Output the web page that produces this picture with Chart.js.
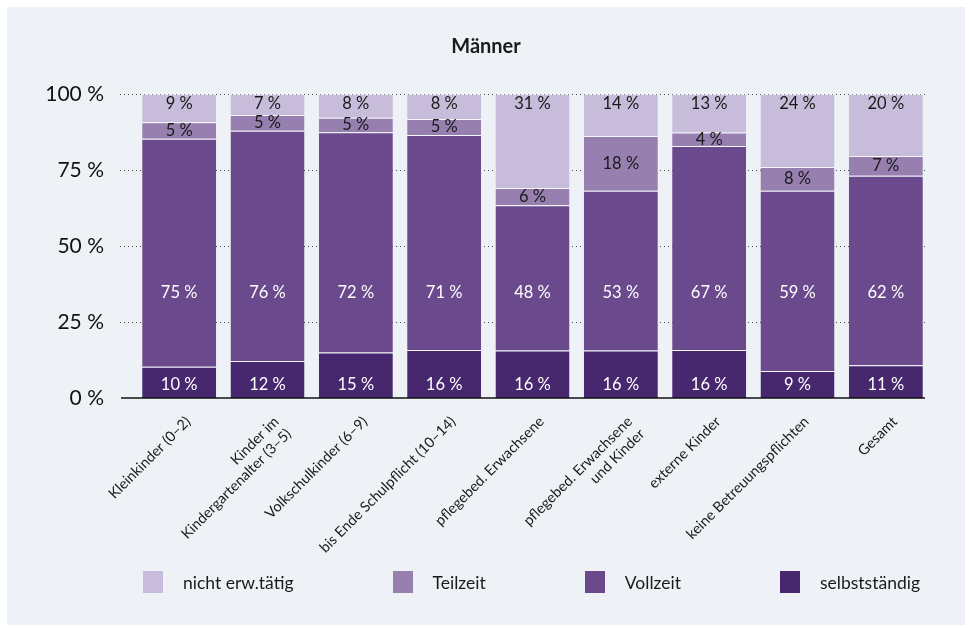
<!DOCTYPE html>
<html>
<head>
<meta charset="utf-8">
<script src="https://cdn.jsdelivr.net/npm/chart.js@4/dist/chart.umd.min.js"></script>
<style>
  html, body { margin: 0; padding: 0; background: #fff; }
  body { width: 972px; height: 628px; position: relative; overflow: hidden; font-family: Lato, sans-serif; }
  #panel { position: absolute; left: 7px; top: 7px; width: 958px; height: 618px; background: #eef2f6; }
  #wrap { position: absolute; left: 0; top: 0; width: 972px; height: 628px; }
  #legend { position: absolute; left: 143px; top: 571px; display: flex; align-items: center; }
  .item { display: flex; align-items: center; margin-right: 99px; font-size: 17.5px; color: #1a1a1a; }
  .item:last-child { margin-right: 0; }
  .box { width: 20px; height: 22px; margin-right: 20px; }
</style>
</head>
<body>
<div id="panel"></div>
<div id="wrap"><canvas id="chart"></canvas></div>
<div id="legend"></div>
<script>
const categories = [
  'Kleinkinder (0–2)',
  ['Kinder im', 'Kindergartenalter (3–5)'],
  'Volkschulkinder (6–9)',
  'bis Ende Schulpflicht (10–14)',
  'pflegebed. Erwachsene',
  ['pflegebed. Erwachsene', 'und Kinder'],
  'externe Kinder',
  'keine Betreuungspflichten',
  'Gesamt'
];

// shares in %, bottom to top
const selbststaendig = [10.3, 12.2, 15.0, 15.8, 15.6, 15.6, 15.8, 8.9, 10.8];
const vollzeit = [75.0, 75.7, 72.4, 70.7, 47.8, 52.6, 67.1, 59.3, 62.3];
const teilzeit = [5.4, 5.2, 4.8, 5.3, 5.7, 18.0, 4.4, 7.8, 6.5];
const nichtErwerbstaetig = [9.3, 6.9, 7.8, 8.2, 30.9, 13.8, 12.7, 24.0, 20.4];

const yTicks = [0, 25, 50, 75, 100];

const FONT = 'Lato, sans-serif';

// dotted grid + baseline, a bit wider than the bars
const gridPlugin = {
  id: 'gridLines',
  beforeDatasetsDraw(chart) {
    const { ctx, chartArea } = chart;
    const y = chart.scales.y;
    ctx.save();
    ctx.strokeStyle = '#4a4a4a';
    ctx.lineWidth = 1;
    ctx.setLineDash([1, 3]);
    yTicks.forEach(v => {
      if (v === 0) return;
      const py = Math.round(y.getPixelForValue(v)) + 0.5;
      ctx.beginPath();
      ctx.moveTo(chartArea.left - 15, py);
      ctx.lineTo(chartArea.right - 5, py);
      ctx.stroke();
    });
    ctx.restore();
  },
  afterDatasetsDraw(chart) {
    const { ctx, chartArea } = chart;
    const py = chart.scales.y.getPixelForValue(0);
    ctx.save();
    ctx.strokeStyle = '#111';
    ctx.lineWidth = 1.5;
    ctx.beginPath();
    ctx.moveTo(chartArea.left - 14, py);
    ctx.lineTo(chartArea.right - 5, py);
    ctx.stroke();
    ctx.restore();
  }
};

// value labels inside the segments
const labelPlugin = {
  id: 'valueLabels',
  afterDatasetsDraw(chart) {
    const { ctx } = chart;
    const y = chart.scales.y;
    ctx.save();
    ctx.font = '16.5px ' + FONT;
    ctx.textAlign = 'center';
    ctx.textBaseline = 'middle';
    chart.data.datasets.forEach((ds, i) => {
      const meta = chart.getDatasetMeta(i);
      ctx.fillStyle = ds.labelColor;
      meta.data.forEach((bar, j) => {
        const v = ds.data[j];
        let py;
        if (ds.labelAt === 'center') {
          py = (bar.y + bar.base) / 2;
        } else {
          py = y.getPixelForValue(ds.labelAt);
        }
        ctx.fillText(Math.round(v) + ' %', bar.x, py);
      });
    });
    ctx.restore();
  }
};

const datasets = [
  { label: 'selbstständig', data: selbststaendig, backgroundColor: '#47286e', labelColor: '#ffffff', labelAt: 4.3 },
  { label: 'Vollzeit', data: vollzeit, backgroundColor: '#6a4a8c', labelColor: '#ffffff', labelAt: 34.5 },
  { label: 'Teilzeit', data: teilzeit, backgroundColor: '#977fb0', labelColor: '#1a1a1a', labelAt: 'center' },
  { label: 'nicht erw.tätig', data: nichtErwerbstaetig, backgroundColor: '#c7bcd9', labelColor: '#1a1a1a', labelAt: 96.9 }
].map(d => Object.assign(d, {
  borderColor: 'rgba(255,255,255,0.35)',
  borderWidth: { top: 1, right: 0, bottom: 0, left: 0 },
  borderSkipped: 'bottom',
  categoryPercentage: 1,
  barPercentage: 0.838
}));

new Chart(document.getElementById('chart'), {
  type: 'bar',
  data: { labels: categories, datasets: datasets },
  options: {
    responsive: true,
    maintainAspectRatio: false,
    animation: false,
    layout: { padding: 0 },
    plugins: {
      legend: { display: false },
      tooltip: { enabled: false },
      title: {
        display: true,
        text: 'Männer',
        color: '#1a1a1a',
        font: { family: FONT, size: 20, weight: 'bold' },
        padding: { top: 35, bottom: 35 }
      }
    },
    scales: {
      x: {
        stacked: true,
        grid: { display: false, drawTicks: false },
        border: { display: false },
        ticks: {
          color: '#1a1a1a',
          font: { family: FONT, size: 14.5 },
          minRotation: 45,
          maxRotation: 45,
          autoSkip: false,
          padding: 15,
          labelOffset: 9
        },
        afterFit(scale) { scale.height = 230; }
      },
      y: {
        stacked: true,
        min: 0,
        max: 100,
        grid: { display: false, drawTicks: false },
        border: { display: false },
        afterBuildTicks(scale) { scale.ticks = yTicks.map(v => ({ value: v })); },
        ticks: {
          color: '#111',
          font: { family: FONT, size: 21 },
          padding: 31,
          callback: v => v + ' %'
        },
        afterFit(scale) { scale.width = 135; }
      },
      // empty right-hand gutter so the chart area stops where the reference does
      gutter: {
        type: 'linear',
        position: 'right',
        grid: { display: false, drawTicks: false },
        border: { display: false },
        ticks: { display: false },
        afterFit(scale) { scale.width = 42; }
      }
    }
  },
  plugins: [gridPlugin, labelPlugin]
});

// legend in the reference order (top segment first)
const legend = document.getElementById('legend');
datasets.slice().reverse().forEach(ds => {
  const item = document.createElement('div');
  item.className = 'item';
  const box = document.createElement('span');
  box.className = 'box';
  box.style.background = ds.backgroundColor;
  const txt = document.createElement('span');
  txt.textContent = ds.label;
  item.appendChild(box);
  item.appendChild(txt);
  legend.appendChild(item);
});
</script>
</body>
</html>
